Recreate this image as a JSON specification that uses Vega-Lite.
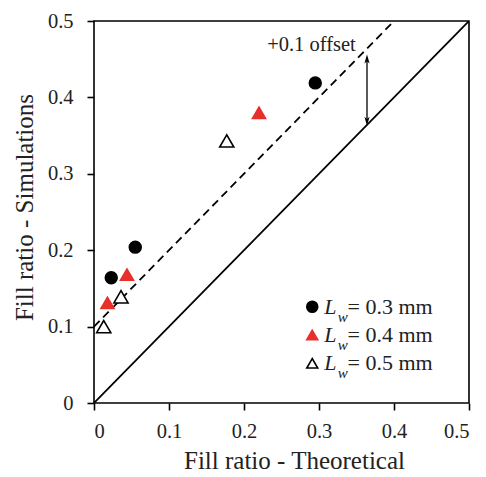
{
  "$schema": "https://vega.github.io/schema/vega-lite/v6.json",
  "width": 375,
  "height": 382,
  "autosize": "none",
  "padding": {"left": 94, "top": 21, "right": 17, "bottom": 74},
  "background": "white",
  "config": {
    "font": "Liberation Serif",
    "view": {"stroke": "black", "strokeWidth": 1.6},
    "axis": {"grid": false, "domain": false, "labelFont": "Liberation Serif", "titleFont": "Liberation Serif", "labelColor": "#222", "titleColor": "#222", "titleFontWeight": "normal", "tickColor": "black", "tickWidth": 1.6, "tickSize": 7, "labelFontSize": 20.5, "titleFontSize": 25}
  },
  "datasets": {
    "pts": [
      {"x": 0.295, "y": 0.419, "series": "0.3"},
      {"x": 0.055, "y": 0.204, "series": "0.3"},
      {"x": 0.023, "y": 0.164, "series": "0.3"},
      {"x": 0.22, "y": 0.38, "series": "0.4"},
      {"x": 0.044, "y": 0.168, "series": "0.4"},
      {"x": 0.018, "y": 0.131, "series": "0.4"},
      {"x": 0.177, "y": 0.343, "series": "0.5"},
      {"x": 0.036, "y": 0.139, "series": "0.5"},
      {"x": 0.013, "y": 0.1, "series": "0.5"}
    ],
    "leg": [
      {"x": 0.291, "lx": 0.307, "wx": 0.325, "tx": 0.338, "y": 0.126, "series": "0.3", "label": "= 0.3 mm"},
      {"x": 0.291, "lx": 0.307, "wx": 0.325, "tx": 0.338, "y": 0.089, "series": "0.4", "label": "= 0.4 mm"},
      {"x": 0.291, "lx": 0.307, "wx": 0.325, "tx": 0.338, "y": 0.052, "series": "0.5", "label": "= 0.5 mm"}
    ]
  },
  "layer": [
    {
      "data": {"values": [{"x": 0, "y": 0}, {"x": 0.5, "y": 0.5}]},
      "mark": {"type": "line", "color": "black", "strokeWidth": 1.8, "clip": true},
      "encoding": {
        "x": {"field": "x", "type": "quantitative", "scale": {"domain": [0, 0.5], "nice": false}, "axis": {"values": [0, 0.1, 0.2, 0.3, 0.4, 0.5], "labelExpr": "datum.value == 0 ? '0' : format(datum.value, '.1f')", "title": "Fill ratio - Theoretical", "labelPadding": 11, "titlePadding": 7, "titleX": 200, "titleAlign": "center"}},
        "y": {"field": "y", "type": "quantitative", "scale": {"domain": [0, 0.5], "nice": false}, "axis": {"values": [0, 0.1, 0.2, 0.3, 0.4, 0.5], "labelExpr": "datum.value == 0 ? '0' : format(datum.value, '.1f')", "title": "Fill ratio - Simulations", "labelPadding": 14, "titlePadding": 10, "titleY": 186, "titleAlign": "center"}}
      }
    },
    {
      "data": {"values": [{"x": 0, "y": 0.1}, {"x": 0.4, "y": 0.5}]},
      "mark": {"type": "line", "color": "black", "strokeWidth": 1.8, "strokeDash": [8, 5]},
      "encoding": {"x": {"field": "x", "type": "quantitative"}, "y": {"field": "y", "type": "quantitative"}}
    },
    {
      "data": {"values": [{"x": 0.364, "y": 0.367, "y2": 0.452}]},
      "mark": {"type": "rule", "color": "black", "strokeWidth": 1.3},
      "encoding": {"x": {"field": "x", "type": "quantitative"}, "y": {"field": "y", "type": "quantitative"}, "y2": {"field": "y2"}}
    },
    {
      "data": {"values": [{"x": 0.364, "y": 0.456}]},
      "mark": {"type": "point", "shape": "M0,0L-0.35,1.2L0,0.9L0.35,1.2Z", "filled": true, "color": "black", "size": 220, "opacity": 1},
      "encoding": {"x": {"field": "x", "type": "quantitative"}, "y": {"field": "y", "type": "quantitative"}}
    },
    {
      "data": {"values": [{"x": 0.364, "y": 0.363}]},
      "mark": {"type": "point", "shape": "M0,0L-0.35,-1.2L0,-0.9L0.35,-1.2Z", "filled": true, "color": "black", "size": 220, "opacity": 1},
      "encoding": {"x": {"field": "x", "type": "quantitative"}, "y": {"field": "y", "type": "quantitative"}}
    },
    {
      "data": {"values": [{"x": 0.29, "y": 0.468, "t": "+0.1 offset"}]},
      "mark": {"type": "text", "fontSize": 20.5, "color": "#222", "align": "center", "baseline": "middle"},
      "encoding": {"x": {"field": "x", "type": "quantitative"}, "y": {"field": "y", "type": "quantitative"}, "text": {"field": "t"}}
    },
    {
      "data": {"name": "pts"},
      "mark": {"type": "point", "filled": true, "opacity": 1, "strokeWidth": 1.6},
      "encoding": {
        "x": {"field": "x", "type": "quantitative"},
        "y": {"field": "y", "type": "quantitative"},
        "shape": {"field": "series", "type": "nominal", "scale": {"domain": ["0.3", "0.4", "0.5"], "range": ["circle", "triangle-up", "triangle-up"]}, "legend": null},
        "fill": {"field": "series", "type": "nominal", "scale": {"domain": ["0.3", "0.4", "0.5"], "range": ["black", "#e8302a", "white"]}, "legend": null},
        "stroke": {"field": "series", "type": "nominal", "scale": {"domain": ["0.3", "0.4", "0.5"], "range": ["black", "#e8302a", "black"]}, "legend": null},
        "size": {"field": "series", "type": "nominal", "scale": {"domain": ["0.3", "0.4", "0.5"], "range": [140, 200, 175]}, "legend": null}
      }
    },
    {
      "data": {"name": "leg"},
      "mark": {"type": "point", "filled": true, "opacity": 1, "strokeWidth": 1.6},
      "encoding": {
        "x": {"field": "x", "type": "quantitative"},
        "y": {"field": "y", "type": "quantitative"},
        "shape": {"field": "series", "type": "nominal", "legend": null},
        "fill": {"field": "series", "type": "nominal", "legend": null},
        "stroke": {"field": "series", "type": "nominal", "legend": null},
        "size": {"value": 120}
      }
    },
    {
      "data": {"name": "leg"},
      "mark": {"type": "text", "fontSize": 22, "fontStyle": "italic", "color": "#222", "align": "left", "baseline": "middle"},
      "encoding": {"x": {"field": "lx", "type": "quantitative"}, "y": {"field": "y", "type": "quantitative"}, "text": {"value": "L"}}
    },
    {
      "data": {"name": "leg"},
      "mark": {"type": "text", "fontSize": 15, "fontStyle": "italic", "color": "#222", "align": "left", "baseline": "middle", "dy": 10},
      "encoding": {"x": {"field": "wx", "type": "quantitative"}, "y": {"field": "y", "type": "quantitative"}, "text": {"value": "w"}}
    },
    {
      "data": {"name": "leg"},
      "mark": {"type": "text", "fontSize": 22, "color": "#222", "align": "left", "baseline": "middle"},
      "encoding": {"x": {"field": "tx", "type": "quantitative"}, "y": {"field": "y", "type": "quantitative"}, "text": {"field": "label"}}
    }
  ]
}
